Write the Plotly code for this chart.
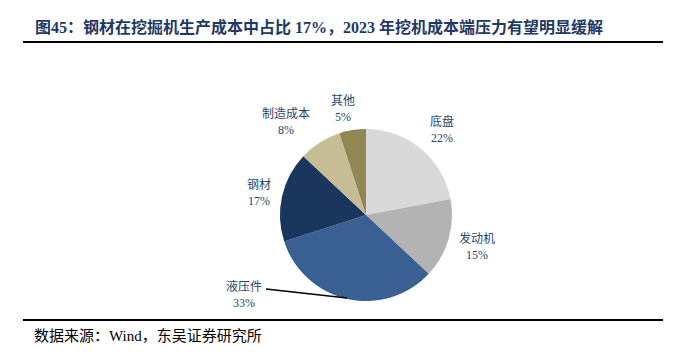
import plotly.graph_objects as go

W, H = 690, 360
OFF = 8  # page body margin

# ---- data ----
categories = ["底盘", "发动机", "液压件", "钢材", "制造成本", "其他"]
shares = [22, 15, 33, 17, 8, 5]
colors = ["#d9d9d9", "#b3b3b3", "#3a5f93", "#1b365d", "#c6bd95", "#918752"]

# label block centres (pixels) - layout only
label_pos = {
    "底盘": (442, 129),
    "发动机": (477, 246),
    "液压件": (244, 294),
    "钢材": (259, 193),
    "制造成本": (286, 122),
    "其他": (343, 109),
}

FONT = "'Liberation Serif', 'Times New Roman', 'Noto Sans CJK SC', serif"
TXT = "#2b4669"


def px(x, y):
    return (x - OFF) / W, 1 - (y - OFF) / H


cx, cy, r = 366, 215, 86
x0, y1 = px(cx - r, cy - r)
x1, y0 = px(cx + r, cy + r)

fig = go.Figure(go.Pie(
    labels=categories,
    values=shares,
    sort=False,
    direction="clockwise",
    rotation=0,
    marker=dict(colors=colors, line=dict(width=0)),
    textinfo="none",
    hoverinfo="label+percent",
    domain=dict(x=[x0, x1], y=[y0, y1]),
    showlegend=False,
))

annotations = []
for cat, val in zip(categories, shares):
    x, y = label_pos[cat]
    ax, ay = px(x, y)
    annotations.append(dict(
        x=ax, y=ay, xref="paper", yref="paper",
        text=f"{cat}<br>{val}%", showarrow=False,
        xanchor="center", yanchor="middle", align="center",
        font=dict(family=FONT, size=12, color=TXT),
    ))

# title
tx, ty = px(33, 27)
annotations.append(dict(
    x=tx, y=ty, xref="paper", yref="paper", xanchor="left", yanchor="middle",
    text="<b>图45：钢材在挖掘机生产成本中占比 17%，2023 年挖机成本端压力有望明显缓解</b>",
    showarrow=False, font=dict(family=FONT, size=16, color="#1f3864"),
))
# source
sx, sy = px(32, 336)
annotations.append(dict(
    x=sx, y=sy, xref="paper", yref="paper", xanchor="left", yanchor="middle",
    text="数据来源：Wind，东吴证券研究所",
    showarrow=False, font=dict(family=FONT, size=15, color="#000000"),
))

shapes = []
for yy in (42, 320):
    a, b = px(23, yy)
    c, _ = px(663, yy)
    shapes.append(dict(type="line", xref="paper", yref="paper",
                       x0=a, x1=c, y0=b, y1=b, line=dict(color="#000000", width=2)))
# leader line for 液压件
l0x, l0y = px(266, 289)
l1x, l1y = px(347, 298)
shapes.append(dict(type="line", xref="paper", yref="paper",
                   x0=l0x, y0=l0y, x1=l1x, y1=l1y, line=dict(color="#000000", width=1.3)))

fig.update_layout(
    width=W, height=H,
    margin=dict(l=0, r=0, t=0, b=0),
    paper_bgcolor="white", plot_bgcolor="white",
    annotations=annotations, shapes=shapes,
)

fig.write_html("out.html")
